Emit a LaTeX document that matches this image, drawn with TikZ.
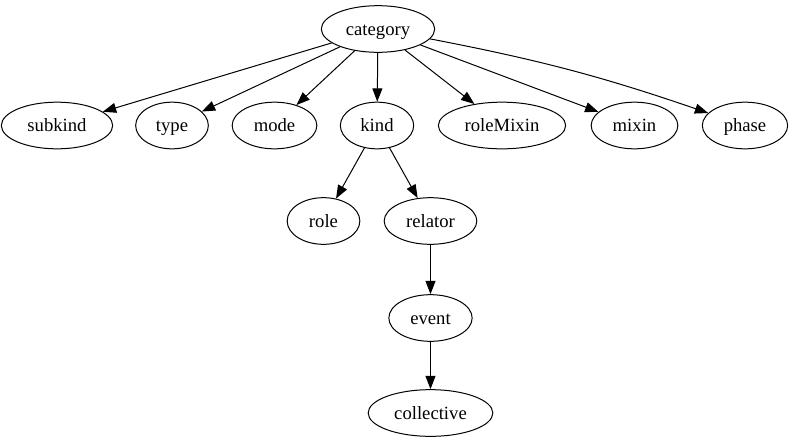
\documentclass[tikz,border=0pt]{standalone}
\usepackage{fontspec}
\setmainfont{Liberation Serif}
\usetikzlibrary{shapes.geometric,arrows.meta}
\begin{document}
\begin{tikzpicture}[x=0.75pt, y=-0.75pt,
		every node/.style={font=\fontsize{14pt}{16pt}\selectfont},
		cls/.style={draw, ellipse, line width=0.75pt, inner sep=0pt, minimum height=35pt, text height=10.5pt, text depth=1.5pt},
		gen/.style={-{Triangle[length=10pt,width=7.5pt]}, line width=0.75pt}]
	
	\useasboundingbox (0,0) rectangle (793,443);
	
	% Wurzel
	\node[cls, minimum width=85pt] (category) at (378,29) {category};
	
	% zweite Ebene
	\node[cls, minimum width=83.5pt] (subkind) at (57,125.5) {subkind};
	\node[cls, minimum width=54.5pt] (type) at (172,125.5) {type};
	\node[cls, minimum width=63.5pt] (mode) at (274.5,125.5) {mode};
	\node[cls, minimum width=55pt] (kind) at (377,125.5) {kind};
	\node[cls, minimum width=95.5pt] (roleMixin) at (502,125.5) {roleMixin};
	\node[cls, minimum width=65pt] (mixin) at (634.5,125.5) {mixin};
	\node[cls, minimum width=64pt] (phase) at (745,125.5) {phase};
	
	% unter kind
	\node[cls, minimum width=54.5pt] (role) at (323.5,221) {role};
	\node[cls, minimum width=69.5pt] (relator) at (430.5,221) {relator};
	\node[cls, minimum width=62.5pt] (event) at (430.5,318) {event};
	\node[cls, minimum width=93.5pt] (collective) at (430.5,413) {collective};
	
	% Kanten
	\draw[gen] (category) -- (subkind);
	\draw[gen] (category) -- (type);
	\draw[gen] (category) -- (mode);
	\draw[gen] (category) -- (kind);
	\draw[gen] (category) -- (roleMixin);
	\draw[gen] (category) -- (mixin);
	\draw[gen] (category) to[bend left=4] (phase);
	\draw[gen] (kind) -- (role);
	\draw[gen] (kind) -- (relator);
	\draw[gen] (relator) -- (event);
	\draw[gen] (event) -- (collective);
	
\end{tikzpicture}
\end{document}
